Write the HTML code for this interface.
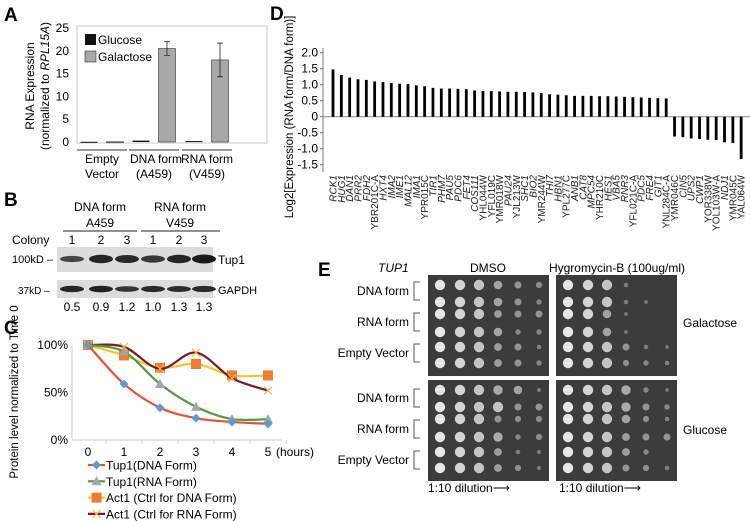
<!DOCTYPE html>
<html><head><meta charset="utf-8"><style>
html,body{margin:0;padding:0;background:#fff;}
svg{display:block;font-family:"Liberation Sans",Arial,sans-serif;}
</style></head><body>
<svg id="fig" width="750" height="521" viewBox="0 0 750 521" xmlns="http://www.w3.org/2000/svg">
<g id="pA">
 <text x="4" y="21" font-size="19" font-weight="bold">A</text>
 <rect x="77" y="26" width="190" height="117" fill="none" stroke="#bbb" stroke-width="0.8"/>
 <text transform="translate(34,86) rotate(-90)" font-size="12" text-anchor="middle">RNA Expression</text>
 <text transform="translate(49,86) rotate(-90)" font-size="12" text-anchor="middle">(normalized to <tspan font-style="italic">RPL15A</tspan>)</text>
 <g id="aAxis"></g>
 <g id="aBars"></g>
 <rect x="85" y="34" width="11" height="11" fill="#111"/>
 <text x="98" y="44" font-size="12">Glucose</text>
 <rect x="85" y="51" width="11" height="11" fill="#a8a8a8" stroke="#333" stroke-width="0.6"/>
 <text x="98" y="61" font-size="12">Galactose</text>
</g>
<g id="pB">
 <text x="4" y="206" font-size="19" font-weight="bold">B</text>
 <text x="100" y="211" font-size="12" text-anchor="middle">DNA form</text>
 <text x="100" y="227" font-size="12" text-anchor="middle">A459</text>
 <text x="180" y="211" font-size="12" text-anchor="middle">RNA form</text>
 <text x="180" y="227" font-size="12" text-anchor="middle">V459</text>
 <line x1="63" y1="231" x2="137" y2="231" stroke="#222" stroke-width="1"/>
 <line x1="141" y1="231" x2="220" y2="231" stroke="#222" stroke-width="1"/>
 <text x="12" y="244" font-size="12">Colony</text>
 <g id="bLanes"></g>
 <rect x="57" y="247" width="156" height="25" fill="#dcdcdc"/>
 <rect x="57" y="280" width="156" height="18" fill="#dcdcdc"/>
 <g id="bBands"></g>
 <text x="12" y="263" font-size="11">100kD –</text>
 <text x="218" y="264" font-size="12">Tup1</text>
 <text x="18" y="294" font-size="10">37kD –</text>
 <text x="218" y="294" font-size="11">GAPDH</text>
</g>
<g id="pC">
 <text x="4" y="334" font-size="19" font-weight="bold">C</text>
 <text transform="translate(18,392) rotate(-90)" font-size="11.5" text-anchor="middle">Protein level normalized to Time 0</text>
 <line x1="72" y1="345" x2="72" y2="440" stroke="#ccc"/>
 <line x1="72" y1="440" x2="282" y2="440" stroke="#ccc"/>
 <g id="cAxis"></g>
 <g id="cLines"></g>
 <text x="276" y="456" font-size="12">(hours)</text>
 <g id="cLegend"></g>
</g>
<g id="pD">
 <text x="270" y="20" font-size="19" font-weight="bold">D</text>
 <text transform="translate(293,117) rotate(-90)" font-size="11.5" text-anchor="middle">Log2[Expression (RNA form/DNA form)]</text>
 <line x1="323" y1="48" x2="323" y2="172" stroke="#555" stroke-width="0.8"/>
 <g id="dAxis"></g>
 <g id="dBars"></g>
 <g id="dLabels"></g>
</g>
<g id="pE">
 <text x="318" y="276" font-size="19" font-weight="bold">E</text>
 <text x="378" y="272" font-size="12" font-style="italic">TUP1</text>
 <text x="488" y="272" font-size="12" text-anchor="middle">DMSO</text>
 <text x="617" y="272" font-size="12" text-anchor="middle">Hygromycin-B (100ug/ml)</text>
 <g id="ePlates"></g>
 <g id="eLabels"></g>
 <text x="683" y="327" font-size="12">Galactose</text>
 <text x="683" y="434" font-size="12">Glucose</text>
 <text x="428" y="492" font-size="12">1:10 dilution⟶</text>
 <text x="559" y="492" font-size="12">1:10 dilution⟶</text>
</g>
</svg>
<script>
// ---- Panel A data
const aCategoriesLine1 = ["Empty","DNA form","RNA form"];
const aCategoriesLine2 = ["Vector","(A459)","(V459)"];
const aGlucose = [0.05, 0.3, 0.2];
const aGalactose = [0.05, 20.5, 18.0];
const aGalactoseErr = [0, 1.5, 3.7];
const aTicks = [0,5,10,15,20,25];
// ---- Panel B data
const bColonies = ["1","2","3","1","2","3"];
const bTupIntensity = [0.55, 0.9, 0.85, 0.7, 0.9, 1.0];
const bGapdhIntensity = [0.85, 0.9, 0.65, 0.8, 0.75, 0.8];
const bRatios = ["0.5","0.9","1.2","1.0","1.3","1.3"];
// ---- Panel C data
const cHours = [0,1,2,3,4,5];
const cTup1Dna = [100,59,34,23,19,17];
const cTup1Rna = [100,93,59,35,22,22];
const cAct1Dna = [100,89,76,80,68,68];
const cAct1Rna = [100,98,75,92,65,52];
const cTicks = [0,50,100];
// ---- Panel D data
const dGenes = ["RCK1","HUG1","DAN1","PRR2","FDH2","YBR201C-A","HXT4","IMA2","IME1","MAL12","IMA1","YPR015C","TIR1","PHM7","PAU5","PDC6","FET4","COS111","YHL044W","YFL019C","YMR018W","PAU24","YJL213W","SHC1","BIO2","YMR244W","THI7","HBN1","YPL277C","ANB1","CAT8","MPC54","YHR210C","HES1","VBA5","RNR3","YFL021C-A","PDC5","FRE4","GIT1","YNL284C-A","YMR046C","CIN5","UPS2","CWP1","YOR338W","YOL103W-A","NDJ1","YMR045C","YAL064W"];
const dValues = [1.48,1.30,1.22,1.17,1.15,1.10,1.08,1.05,1.03,1.02,0.98,0.95,0.90,0.88,0.88,0.87,0.86,0.82,0.80,0.80,0.79,0.78,0.78,0.77,0.76,0.74,0.70,0.69,0.67,0.65,0.65,0.65,0.64,0.64,0.63,0.62,0.61,0.60,0.59,0.58,0.57,-0.62,-0.64,-0.68,-0.70,-0.72,-0.73,-0.80,-0.82,-1.32];
const dTicks = [2.0,1.5,1.0,0.5,0,-0.5,-1.0,-1.5];
// ---- Panel E data (growth level per spot, 6 rows x 6 dilutions)
const eGalDmso = [[1,1,1,.7,.5,.4],[1,1,1,.7,.5,.3],[1,1,1,.6,.5,.5],[1,1,1,.7,.3,.3],[1,1,1,.6,.5,.2],[1,1,1,.6,.5,.3]];
const eGalHyg = [[1,1,1,.2,0,0],[1,1,1,.2,.1,0],[1,1,.7,.1,0,0],[1,1,.7,.1,0,0],[1,1,1,.5,.2,.1],[1,1,1,.4,.3,.2]];
const eGluDmso = [[1,1,1,.8,.7,.15],[1,1,1,1,.5,.5],[1,1,1,.5,.4,.4],[1,1,1,.8,.3,.4],[1,1,1,.6,.2,.15],[1,1,1,.6,.4,.15]];
const eGluHyg = [[1,1,1,.8,.3,.1],[1,1,1,.8,.5,.3],[1,1,1,.7,.4,.2],[1,1,1,.6,.5,.5],[1,1,1,.6,.3,0],[1,1,1,.5,.4,.2]];
const eRowLabels = ["DNA form","RNA form","Empty Vector"];

const NS="http://www.w3.org/2000/svg";
function mk(tag, attrs, parent, text){const e=document.createElementNS(NS,tag);for(const k in attrs)e.setAttribute(k,attrs[k]);if(text!==undefined)e.textContent=text;parent.appendChild(e);return e;}

// ===== Panel A
const aY = v => 142 - v*4.56;
const aGroupX = [102,154,207];
const aAxis=document.getElementById('aAxis'), aBars=document.getElementById('aBars');
aTicks.forEach(t=>{const e=mk('text',{x:69,y:aY(t)+4,'font-size':12,'text-anchor':'end'},aAxis,String(t));

});
aCategoriesLine1.forEach((c,i)=>{
 const gx=aGroupX[i];
 const l=mk('line',{x1:gx-25,y1:150,x2:gx+25,y2:150,stroke:'#333','stroke-width':1},aAxis);
 
 
 const t1=mk('text',{x:gx+(i==1?2:0),y:163,'font-size':12,'text-anchor':'middle'},aAxis,c);
 
 
 const t2=mk('text',{x:gx,y:178,'font-size':12,'text-anchor':'middle'},aAxis,aCategoriesLine2[i]);
 
 
 const xg=gx-13, xl=gx+13, w=17;
 const b1=mk('rect',{x:xg-w/2,y:aY(aGlucose[i]),width:w,height:Math.max(1,142-aY(aGlucose[i])),fill:'#111'},aBars);
 
 
 const b2=mk('rect',{x:xl-w/2,y:aY(aGalactose[i]),width:w,height:Math.max(1,142-aY(aGalactose[i])),fill:'#a8a8a8',stroke:'#333','stroke-width':0.6},aBars);
 
 
 if(aGalactoseErr[i]>0){
  const hi=aY(aGalactose[i]+aGalactoseErr[i]), lo=aY(aGalactose[i]-aGalactoseErr[i]);
  const eb=mk('path',{d:`M${xl},${hi}V${lo}M${xl-3},${hi}H${xl+3}M${xl-3},${lo}H${xl+3}`,stroke:'#222','stroke-width':0.8,fill:'none'},aBars);
  
  
 }
});

// ===== Panel B
const bLaneX=[72,101,127,153,179,204];
const bL=document.getElementById('bLanes'), bB=document.getElementById('bBands');
bColonies.forEach((c,i)=>{
 const t=mk('text',{x:bLaneX[i],y:244,'font-size':12,'text-anchor':'middle'},bL,c);
 
 
 const v=mk('text',{x:bLaneX[i],y:311,'font-size':12,'text-anchor':'middle'},bL,bRatios[i]);
 
 
 const h1=3+bTupIntensity[i]*6;
 const b=mk('ellipse',{cx:bLaneX[i],cy:259,rx:12,ry:h1/2,fill:'#1a1a1a',opacity:0.5+bTupIntensity[i]*0.5},bB);
 
 
 const h2=3+bGapdhIntensity[i]*4;
 const g=mk('ellipse',{cx:bLaneX[i],cy:289,rx:12,ry:h2/2,fill:'#1a1a1a',opacity:0.6+bGapdhIntensity[i]*0.4},bB);
 
 
});

// ===== Panel C
const cX = h => 88 + h*36;
const cY = p => 440 - p*0.95;
const cAx=document.getElementById('cAxis'), cL=document.getElementById('cLines'), cLg=document.getElementById('cLegend');
cTicks.forEach(t=>{const e=mk('text',{x:68,y:cY(t)+4,'font-size':12,'text-anchor':'end'},cAx,t+'%');

});
cHours.forEach(h=>{const e=mk('text',{x:cX(h),y:456,'font-size':12,'text-anchor':'middle'},cAx,String(h));


const tk=mk('line',{x1:cX(h)+18,y1:440,x2:cX(h)+18,y2:444,stroke:'#ccc'},cAx);

});
function smooth(pts){let d=`M${pts[0][0]},${pts[0][1]}`;for(let i=0;i<pts.length-1;i++){const p0=pts[Math.max(0,i-1)],p1=pts[i],p2=pts[i+1],p3=pts[Math.min(pts.length-1,i+2)];const t=6;d+=`C${p1[0]+(p2[0]-p0[0])/t},${p1[1]+(p2[1]-p0[1])/t} ${p2[0]-(p3[0]-p1[0])/t},${p2[1]-(p3[1]-p1[1])/t} ${p2[0]},${p2[1]}`;}return d;}
function marker(type,x,y,color,parent){
 let e;
 if(type=='diamond') e=mk('path',{d:`M${x},${y-4.5}L${x+4.5},${y}L${x},${y+4.5}L${x-4.5},${y}Z`,fill:color},parent);
 else if(type=='tri') e=mk('path',{d:`M${x},${y-5}L${x+5},${y+4}L${x-5},${y+4}Z`,fill:color},parent);
 else if(type=='square') e=mk('rect',{x:x-5,y:y-5,width:10,height:10,fill:color},parent);
 else e=mk('path',{d:`M${x-4},${y-4}L${x+4},${y+4}M${x-4},${y+4}L${x+4},${y-4}`,stroke:color,'stroke-width':1.2},parent);
 return e;
}
const cSeries=[
 {vals:cAct1Dna,line:'#f7c531',mk:'square',mc:'#ee7d31',name:'Act1 (Ctrl for DNA Form)',id:'act1-dna'},
 {vals:cAct1Rna,line:'#7b1a26',mk:'x',mc:'#f2b84b',name:'Act1 (Ctrl for RNA Form)',id:'act1-rna'},
 {vals:cTup1Rna,line:'#4f9a3b',mk:'tri',mc:'#a5a5a5',name:'Tup1(RNA Form)',id:'tup1-rna'},
 {vals:cTup1Dna,line:'#e8502f',mk:'diamond',mc:'#5b9bd5',name:'Tup1(DNA Form)',id:'tup1-dna'}
];
cSeries.forEach(s=>{
 const pts=s.vals.map((v,i)=>[cX(cHours[i]),cY(v)]);
 const p=mk('path',{d:smooth(pts),fill:'none',stroke:s.line,'stroke-width':2.2},cL);
 
 
 pts.forEach(q=>{const m=marker(s.mk,q[0],q[1],s.mc,cL);
 
 });
});
[3,2,0,1].forEach((si,k)=>{
 const s=cSeries[si], y=465+k*16.3;
 const l=mk('line',{x1:88,y1:y,x2:105,y2:y,stroke:s.line,'stroke-width':2.2},cLg);
 
 
 const m=marker(s.mk,96.5,y,s.mc,cLg);
 
 
 const t=mk('text',{x:106,y:y+4.5,'font-size':12},cLg,s.name);
 
 
});

// ===== Panel D
const dY = v => 116.7 - v*32;
const dX = i => 333 + i*8.33;
const dAx=document.getElementById('dAxis'), dB=document.getElementById('dBars'), dLb=document.getElementById('dLabels');
dTicks.forEach(t=>{
 const e=mk('text',{x:318,y:dY(t)+4,'font-size':12,'text-anchor':'end'},dAx,t==0?'0':t.toFixed(1));
 
 
 const tk=mk('line',{x1:320,y1:dY(t),x2:323,y2:dY(t),stroke:'#555','stroke-width':0.8},dAx);
 
 
});
const zl=mk('line',{x1:323,y1:dY(0),x2:750,y2:dY(0),stroke:'#888','stroke-width':1},dAx);


dValues.forEach((v,i)=>{
 const y0=dY(0), y1=dY(v);
 const b=mk('rect',{x:dX(i)-1.4,y:Math.min(y0,y1),width:2.8,height:Math.abs(y1-y0),fill:'#000'},dB);
 
 
 const g=dGenes[i], it=!/^Y[A-P][LR]\d/.test(g);
 const t=mk('text',{transform:`translate(${dX(i)+3.5},175) rotate(-90)`,'font-size':10,'text-anchor':'end','font-style':it?'italic':'normal',fill:'#222'},dLb,g);
 
 
});

// ===== Panel E
const ePl=document.getElementById('ePlates'), eLb=document.getElementById('eLabels');
const plateDefs=[[428,275,eGalDmso,'plate-galactose-dmso'],[556,275,eGalHyg,'plate-galactose-hygromycin'],[428,380,eGluDmso,'plate-glucose-dmso'],[556,380,eGluHyg,'plate-glucose-hygromycin']];
const rowOff=[10,27,39,57,72,88], colOff=[12,32,51,70,90,111];
plateDefs.forEach(pd=>{
 const [px,py,grid,name]=pd;
 const r=mk('rect',{x:px,y:py,width:121,height:101,fill:'#3c3c3c'},ePl);
 
 
 grid.forEach((row,ri)=>row.forEach((lv,ci)=>{
  if(lv<=0) return;
  const cx=px+colOff[ci], cy=py+rowOff[ri];
  let s;
  if(lv>=1){s=mk('circle',{cx,cy,r:5.2,fill:ci==0?'#e6e6e6':(ci==1?'#d4d4d4':'#c4c4c4')},ePl);}
  else{s=mk('circle',{cx,cy,r:1.5+lv*4,fill:'#cfcfcf',opacity:0.35+lv*0.5},ePl);}
  
  
 }));
});
[[291,0],[322,1],[353,2],[398,0],[429,1],[460,2]].forEach(a=>{
 const [y,k]=a;
 const t=mk('text',{x:409,y:y+4,'font-size':12,'text-anchor':'end'},eLb,eRowLabels[k]);
 
 
 const br=mk('path',{d:`M420,${y-9}H414V${y+9}H420`,fill:'none',stroke:'#555','stroke-width':1},eLb);
 
 
});
</script>
</body></html>
